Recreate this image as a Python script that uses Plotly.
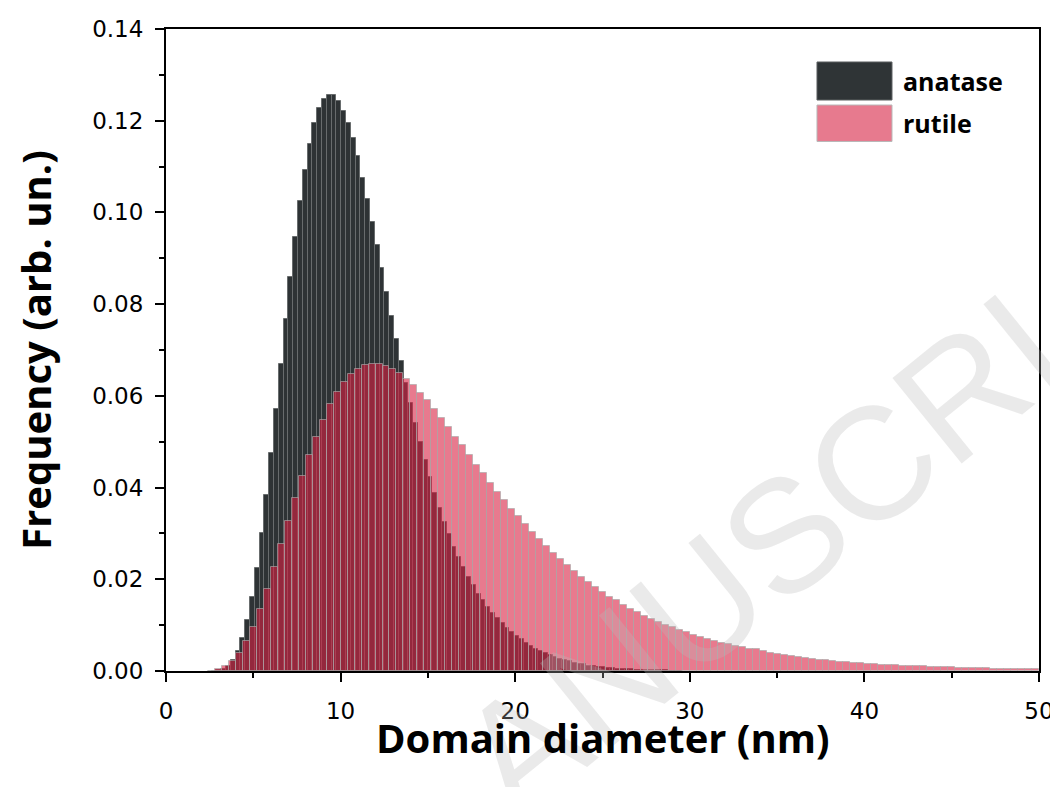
import plotly.graph_objects as go

# ---------------- data ----------------
# anatase: bins of width 0.275 nm, bin index k -> centre k*0.275 nm, first bin k=10
anatase_bin_width = 0.275
anatase_first_bin = 10
anatase_freq = [
    0.0001, 0.0002, 0.0005, 0.0012, 0.0024, 0.0044, 0.0071, 0.0111, 0.0162, 0.0225,
    0.0300, 0.0383, 0.0475, 0.0571, 0.0669, 0.0767, 0.0860, 0.0947, 0.1025, 0.1093,
    0.1149, 0.1194, 0.1227, 0.1248, 0.1257, 0.1255, 0.1244, 0.1222, 0.1195, 0.1162,
    0.1122, 0.1076, 0.1030, 0.0980, 0.0930, 0.0879, 0.0826, 0.0775, 0.0724, 0.0676,
    0.0628, 0.0584, 0.0540, 0.0499, 0.0460, 0.0423, 0.0388, 0.0356, 0.0326, 0.0298,
    0.0271, 0.0248, 0.0226, 0.0206, 0.0188, 0.0169, 0.0155, 0.0140, 0.0127, 0.0115,
    0.0104, 0.0093, 0.0084, 0.0076, 0.0069, 0.0062, 0.0055, 0.0049, 0.0044, 0.0040,
    0.0035, 0.0031, 0.0027, 0.0024, 0.0021, 0.0018, 0.0016, 0.0015, 0.0012, 0.0011,
    0.0009, 0.0008, 0.0007, 0.0006, 0.0005, 0.0005, 0.0004, 0.0004, 0.0003, 0.0003,
    0.0003, 0.0002, 0.0002, 0.0002, 0.0002, 0.0001, 0.0001, 0.0001,
]

# rutile: bins of width 0.4 nm, bin index j -> centre (j+0.5)*0.4 nm, first bin j=6
rutile_bin_width = 0.4
rutile_first_bin = 6
rutile_freq = [
    0.0001, 0.0004, 0.0011, 0.0022, 0.0040, 0.0065, 0.0097, 0.0135, 0.0178, 0.0226,
    0.0276, 0.0327, 0.0377, 0.0425, 0.0471, 0.0511, 0.0548, 0.0582, 0.0608, 0.0630,
    0.0647, 0.0658, 0.0667, 0.0670, 0.0669, 0.0666, 0.0658, 0.0650, 0.0636, 0.0623,
    0.0607, 0.0590, 0.0571, 0.0551, 0.0532, 0.0511, 0.0492, 0.0471, 0.0450, 0.0431,
    0.0411, 0.0391, 0.0372, 0.0354, 0.0338, 0.0320, 0.0303, 0.0287, 0.0273, 0.0258,
    0.0244, 0.0231, 0.0218, 0.0205, 0.0194, 0.0183, 0.0172, 0.0162, 0.0154, 0.0144,
    0.0136, 0.0128, 0.0120, 0.0114, 0.0107, 0.0100, 0.0095, 0.0090, 0.0084, 0.0079,
    0.0074, 0.0070, 0.0066, 0.0061, 0.0058, 0.0055, 0.0052, 0.0049, 0.0047, 0.0044,
    0.0040, 0.0037, 0.0035, 0.0033, 0.0031, 0.0028, 0.0026, 0.0025, 0.0023, 0.0022,
    0.0020, 0.0019, 0.0018, 0.0017, 0.0016, 0.0015, 0.0014, 0.0013, 0.0013, 0.0012,
    0.0011, 0.0010, 0.0010, 0.0009, 0.0009, 0.0008, 0.0008, 0.0007, 0.0007, 0.0006,
    0.0006, 0.0006, 0.0005, 0.0005, 0.0005, 0.0004, 0.0004, 0.0004, 0.0004,
]

series_names = ["anatase", "rutile"]
x_title = "Domain diameter (nm)"
y_title = "Frequency (arb. un.)"
watermark_text = "ANUSCRI"
x_range = [0, 50]
y_range = [0, 0.14]

anatase_x = [(anatase_first_bin + i) * anatase_bin_width for i in range(len(anatase_freq))]
rutile_x = [(rutile_first_bin + i + 0.5) * rutile_bin_width for i in range(len(rutile_freq))]

# ---------------- styles ----------------
ANATASE_FILL = "#2E3335"
ANATASE_LINE = "#686c6d"
RUTILE_FILL = "rgba(217,33,67,0.6)"
RUTILE_LINE = "rgba(170,170,170,0.65)"
TICK_FONT = dict(family="DejaVu Sans", size=23, color="black")
TITLE_FONT = dict(family="Open Sans", size=40, color="black", weight="bold")

fig = go.Figure()
fig.add_trace(go.Bar(
    x=anatase_x, y=anatase_freq, width=anatase_bin_width, name=series_names[0],
    marker=dict(color=ANATASE_FILL, line=dict(color=ANATASE_LINE, width=1)),
))
fig.add_trace(go.Bar(
    x=rutile_x, y=rutile_freq, width=rutile_bin_width, name=series_names[1],
    marker=dict(color=RUTILE_FILL, line=dict(color=RUTILE_LINE, width=1)),
))

axis_common = dict(
    ticks="outside", ticklen=9, tickwidth=2, tickcolor="black",
    showline=True, linewidth=2, linecolor="black", mirror=True,
    showgrid=False, zeroline=False, tickfont=TICK_FONT, automargin=False,
)

fig.update_layout(
    width=1058, height=787,
    margin=dict(l=158, r=27, t=21, b=124),
    plot_bgcolor="white", paper_bgcolor="white",
    barmode="overlay", bargap=0, showlegend=False,
    xaxis=dict(
        range=x_range, tick0=0, dtick=10, ticklabelstandoff=9,
        minor=dict(dtick=5, ticks="outside", ticklen=5, tickwidth=2, tickcolor="black"),
        **axis_common,
    ),
    yaxis=dict(
        range=y_range, tick0=0, dtick=0.02, tickformat=".2f", ticklabelstandoff=7,
        minor=dict(dtick=0.01, ticks="outside", ticklen=5, tickwidth=2, tickcolor="black"),
        title=dict(text=y_title, font=TITLE_FONT, standoff=33),
        **axis_common,
    ),
)

# faint journal watermark (drawn first so the chart texts stay on top)
fig.add_annotation(xref="paper", yref="paper", x=0.6816, y=0.1815,
                   xanchor="center", yanchor="middle",
                   text=watermark_text, showarrow=False, textangle=-39,
                   font=dict(family="Liberation Sans", size=160,
                             color="rgba(185,185,185,0.3)"))

# x-axis title (placed as in the reference)
fig.add_annotation(xref="paper", yref="paper", x=0.5, y=-0.104,
                   xanchor="center", yanchor="middle", showarrow=False,
                   text=x_title, font=TITLE_FONT)

# custom legend (large swatches like the reference)
legend_items = [
    (series_names[0], "#2F3436", "#5c6061", 0.9486, 0.8894, 0.919),
    (series_names[1], "#E77A8E", "#b8b8b8", 0.8816, 0.8248, 0.8536),
]
for name, fill, line, y1, y0, ytxt in legend_items:
    fig.add_shape(type="rect", xref="paper", yref="paper",
                  x0=0.7457, x1=0.8316, y0=y0, y1=y1,
                  fillcolor=fill, line=dict(color=line, width=1))
    fig.add_annotation(xref="paper", yref="paper", x=0.842, y=ytxt,
                       xanchor="left", yanchor="middle", showarrow=False,
                       text=name, font=dict(family="Open Sans", size=25,
                                            color="black", weight="bold"))

fig.write_html("out.html")
